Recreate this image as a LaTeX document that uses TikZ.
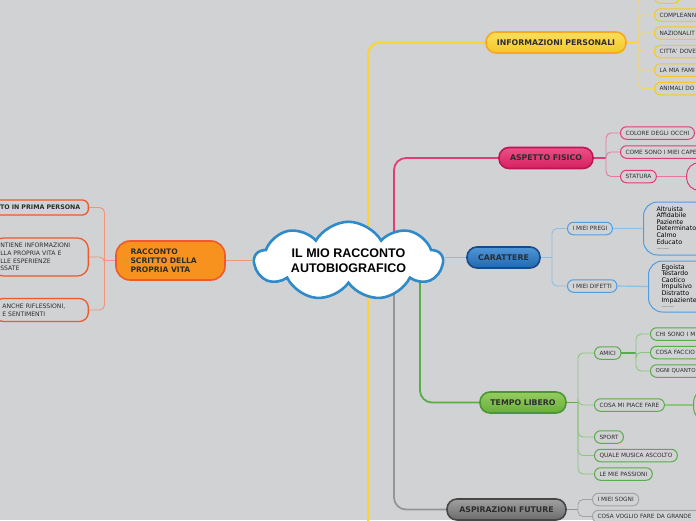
\documentclass[tikz,border=0pt]{standalone}
\usepackage{fontspec}
\setmainfont{DejaVu Sans}
\newfontfamily\cloudfont{Liberation Sans}
\usetikzlibrary{shapes.symbols,positioning}

\definecolor{canvas}{RGB}{209,210,212}
\definecolor{ink}{RGB}{45,45,45}
\definecolor{cloudblue}{RGB}{46,139,203}
\definecolor{yelfill}{RGB}{244,200,40}
\definecolor{yeltop}{RGB}{250,222,90}
\definecolor{yeledge}{RGB}{246,168,35}
\definecolor{yelline}{RGB}{249,212,50}
\definecolor{yelleaf}{RGB}{242,214,110}
\definecolor{pinkfill}{RGB}{214,32,96}
\definecolor{pinktop}{RGB}{236,80,134}
\definecolor{pinkedge}{RGB}{190,22,84}
\definecolor{pinkline}{RGB}{226,60,120}
\definecolor{pinkleaf}{RGB}{230,120,160}
\definecolor{bluefill}{RGB}{32,104,176}
\definecolor{bluetop}{RGB}{80,150,214}
\definecolor{blueedge}{RGB}{24,74,136}
\definecolor{blueline}{RGB}{140,190,230}
\definecolor{blueleaf}{RGB}{80,158,225}
\definecolor{greenfill}{RGB}{104,174,61}
\definecolor{greentop}{RGB}{150,204,96}
\definecolor{greenedge}{RGB}{76,150,52}
\definecolor{greenline}{RGB}{90,172,72}
\definecolor{greenleaf}{RGB}{140,198,126}
\definecolor{greyfill}{RGB}{108,108,108}
\definecolor{greytop}{RGB}{160,160,160}
\definecolor{greyedge}{RGB}{70,70,70}
\definecolor{greyline}{RGB}{150,150,150}
\definecolor{greyleaf}{RGB}{165,165,165}
\definecolor{orangefill}{RGB}{247,146,30}
\definecolor{orangeedge}{RGB}{238,90,42}
\definecolor{orangeline}{RGB}{242,148,117}

\begin{document}
\begin{tikzpicture}[x=1pt,y=-1pt,
    topic/.style={draw,rounded corners=10pt,line width=1.6pt,minimum height=21pt,
      inner xsep=6pt,font=\bfseries\fontsize{7.8}{9}\selectfont,text=ink},
    leaf/.style={draw,rounded corners=6pt,line width=1pt,fill=canvas,minimum height=12.5pt,
      inner xsep=5pt,inner ysep=0pt,anchor=west,font=\fontsize{5.8}{6.5}\selectfont,text=ink},
    cut/.style={text width=#1,align=left},
    bubble/.style={leaf,rounded corners=14pt,align=left,inner xsep=13pt,
      font=\fontsize{6.3}{6.6}\selectfont,text=black},
    link/.style={line width=0.9pt,rounded corners=5pt}]

  \fill[canvas] (0,0) rectangle (696,520);
  \useasboundingbox (0,0) rectangle (696,520);

  % main topics
  \node[topic,top color=yeltop,bottom color=yelfill,draw=yeledge,minimum width=140pt] (info) at (556,42.5) {INFORMAZIONI PERSONALI};
  \node[topic,top color=pinktop,bottom color=pinkfill,draw=pinkedge,minimum width=94pt] (aspetto) at (546,158) {ASPETTO FISICO};
  \node[topic,top color=bluetop,bottom color=bluefill,draw=blueedge,minimum width=73pt] (carattere) at (503.5,257.5) {CARATTERE};
  \node[topic,top color=greentop,bottom color=greenfill,draw=greenedge,minimum width=86pt] (tempo) at (523,402.5) {TEMPO LIBERO};
  \node[topic,top color=greytop,bottom color=greyfill,draw=greyedge,minimum width=119pt] (aspirazioni) at (506.5,509.5) {ASPIRAZIONI FUTURE};
  \node[topic,fill=orangefill,draw=orangeedge,rounded corners=14pt,minimum height=39pt,
        inner xsep=14.5pt,cut=80pt,font=\bfseries\fontsize{7.6}{9}\selectfont] (racconto) at (170.5,260.5) {RACCONTO\\SCRITTO DELLA\\PROPRIA VITA};

  % branches behind the cloud
  \coordinate (yellowfoot) at (368,530);
  \coordinate (pinkfoot) at (394,250);
  \coordinate (greenfoot) at (420,270);
  \coordinate (greyfoot) at (394,270);
  \draw[yelline,line width=2pt,rounded corners=12pt] (info.west) -| (yellowfoot);
  \draw[pinkline,line width=1.8pt,rounded corners=12pt] (aspetto.west) -| (pinkfoot);
  \draw[greenline,line width=1.8pt,rounded corners=12pt] (tempo.west) -| (greenfoot);
  \draw[greyline,line width=1.8pt,rounded corners=12pt] (aspirazioni.west) -| (greyfoot);

  \node[cloud,cloud puffs=9,cloud puff arc=120,cloud ignores aspect=false,aspect=3.3,
        draw=cloudblue,line width=2.6pt,fill=white,minimum width=188pt,minimum height=60pt,
        inner sep=0pt,align=center,
        font=\cloudfont\bfseries\fontsize{12.5}{15}\selectfont] (cloud) at (348.5,261) {IL MIO RACCONTO\\AUTOBIOGRAFICO};

  \draw[blueline,line width=1pt] (carattere.west) -- (carattere.west -| cloud.east);
  \draw[orangeline,line width=1pt] (racconto.east) -- (racconto.east -| cloud.west);

  % informazioni personali
  \coordinate (ib) at (638,42.5);
  \node[leaf,draw=yelfill,minimum width=25pt] (i0) at (654,-3) {};
  \node[leaf,draw=yelfill,cut=50pt] (i1) at (654,15) {COMPLEANN};
  \node[leaf,draw=yelfill,cut=50pt] (i2) at (654,33) {NAZIONALIT};
  \node[leaf,draw=yelfill,cut=50pt] (i3) at (654,51.5) {CITTA' DOVE};
  \node[leaf,draw=yelfill,cut=50pt] (i4) at (654,70) {LA MIA FAMI};
  \node[leaf,draw=yelfill,cut=50pt] (i5) at (654,88.5) {ANIMALI DO};
  \draw[yelline,line width=1.2pt] (info.east) -- (ib);
  \foreach \n in {i0,i1,i2,i3,i4,i5}
    \draw[yelleaf,link] (ib) |- (\n.west);

  % aspetto fisico
  \coordinate (pb) at (606,158);
  \node[leaf,draw=pinkline] (p1) at (620,133) {COLORE DEGLI OCCHI};
  \node[leaf,draw=pinkline,cut=80pt] (p2) at (620,152) {COME SONO I MIEI CAPE};
  \node[leaf,draw=pinkline] (p3) at (620,176.5) {STATURA};
  \node[leaf,draw=pinkline,minimum height=28pt,minimum width=40pt,rounded corners=13pt] (p4) at (686,176.5) {};
  \draw[pinkline,line width=1.2pt] (aspetto.east) -- (pb);
  \foreach \n in {p1,p2,p3}
    \draw[pinkleaf,link] (pb) |- (\n.west);
  \draw[pinkleaf,line width=1.2pt] (p3.east) -- (p4.west);

  % carattere
  \coordinate (cb) at (552,257.5);
  \node[leaf,draw=blueleaf] (c1) at (567,228.5) {I MIEI PREGI};
  \node[leaf,draw=blueleaf] (c2) at (567,286) {I MIEI DIFETTI};
  \node[bubble,draw=blueleaf,minimum height=53pt,text width=50pt] (c3) at (643,228.5)
    {Altruista\\Affidabile\\Paziente\\Determinato\\Calmo\\Educato\\\textcolor{gray}{——}};
  \node[bubble,draw=blueleaf,minimum height=51pt,text width=50pt] (c4) at (648,286.5)
    {Egoista\\Testardo\\Caotico\\Impulsivo\\Distratto\\Impaziente\\\textcolor{gray}{——}};
  \draw[blueline,line width=1.2pt] (carattere.east) -- (cb);
  \foreach \n in {c1,c2}
    \draw[blueline,link] (cb) |- (\n.west);
  \draw[blueline,line width=1.2pt] (c1.east) -- (c3.west);
  \draw[blueline,line width=1.2pt] (c2.east) -- (c4.west);

  % tempo libero
  \coordinate (tb) at (578,402.5);
  \coordinate (ab) at (636,353);
  \node[leaf,draw=greenline] (t1) at (594,353) {AMICI};
  \node[leaf,draw=greenline] (t2) at (594,405) {COSA MI PIACE FARE};
  \node[leaf,draw=greenline] (t3) at (594,437) {SPORT};
  \node[leaf,draw=greenline] (t4) at (594,455.5) {QUALE MUSICA ASCOLTO};
  \node[leaf,draw=greenline] (t5) at (594,474) {LE MIE PASSIONI};
  \node[leaf,draw=greenline,cut=60pt] (t6) at (650,334) {CHI SONO I M};
  \node[leaf,draw=greenline,cut=60pt] (t7) at (650,352.5) {COSA FACCIO};
  \node[leaf,draw=greenline,cut=60pt,font=\fontsize{5.5}{6.5}\selectfont] (t8) at (650,371) {OGNI QUANTO};
  \node[leaf,draw=greenline,minimum height=34pt,minimum width=40pt,rounded corners=15pt] (t9) at (693,405) {};
  \draw[greenline,line width=1.4pt] (tempo.east) -- (tb);
  \foreach \n in {t1,t2,t3,t4,t5}
    \draw[greenleaf,link] (tb) |- (\n.west);
  \draw[greenline,line width=1.4pt] (t1.east) -- (ab);
  \foreach \n in {t6,t7,t8}
    \draw[greenleaf,link] (ab) |- (\n.west);
  \draw[greenleaf,line width=1.2pt] (t2.east) -- (t9.west);

  % aspirazioni future
  \coordinate (fb) at (578,509.5);
  \node[leaf,draw=greyleaf] (f1) at (592,499.5) {I MIEI SOGNI};
  \node[leaf,draw=greyleaf,cut=110pt] (f2) at (592,516.5) {COSA VOGLIO FARE DA GRANDE};
  \draw[greyline,line width=1.2pt] (aspirazioni.east) -- (fb);
  \foreach \n in {f1,f2}
    \draw[greyleaf,link] (fb) |- (\n.west);

  % racconto scritto
  \coordinate (lb) at (104.5,260.5);
  \node[leaf,draw=orangeedge,anchor=east,line width=1.3pt,inner xsep=8pt,minimum height=15pt,
        text width=100pt,align=right,font=\bfseries\fontsize{6.3}{7}\selectfont] (l1) at (89,207.5) {TO IN PRIMA PERSONA};
  \node[leaf,draw=orangeedge,anchor=east,line width=1.3pt,inner xsep=8pt,minimum height=38pt,cut=80pt,
        rounded corners=11pt,font=\fontsize{6.1}{7.8}\selectfont] (l2) at (89,257) {NTIENE INFORMAZIONI\\LLA PROPRIA VITA E\\LLE ESPERIENZE\\SSATE};
  \node[leaf,draw=orangeedge,anchor=east,line width=1.3pt,inner xsep=8pt,minimum height=23pt,cut=78pt,
        rounded corners=9pt,font=\fontsize{6.1}{7.8}\selectfont] (l3) at (89,310) {ANCHE RIFLESSIONI,\\E SENTIMENTI};
  \draw[orangeline,line width=1pt] (racconto.west) -- (lb);
  \foreach \n in {l1,l2,l3}
    \draw[orangeline,link] (lb) |- (\n.east);
\end{tikzpicture}
\end{document}
